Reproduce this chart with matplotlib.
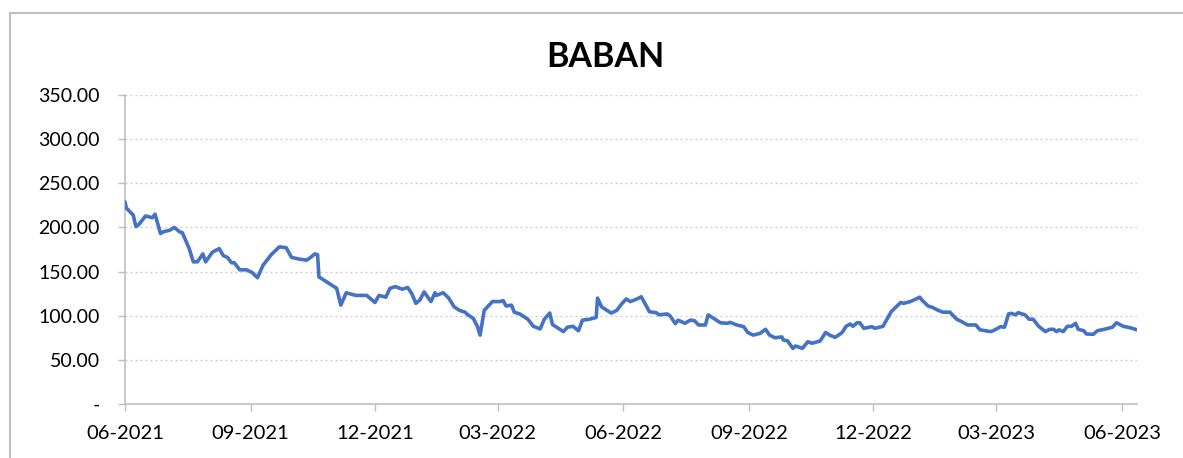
import matplotlib
matplotlib.use("Agg")
import matplotlib.pyplot as plt
import matplotlib.dates as mdates
from matplotlib.lines import Line2D
import pandas as pd

# ============== Daten ==============
TITLE = "BABAN"

dates = [
    "2021-06-01", "2021-06-02", "2021-06-07", "2021-06-09", "2021-06-11", "2021-06-16",
    "2021-06-21", "2021-06-23", "2021-06-27", "2021-06-29", "2021-07-04", "2021-07-07",
    "2021-07-11", "2021-07-13", "2021-07-18", "2021-07-21", "2021-07-24", "2021-07-28",
    "2021-07-30", "2021-08-04", "2021-08-09", "2021-08-12", "2021-08-15", "2021-08-18",
    "2021-08-20", "2021-08-24", "2021-08-29", "2021-09-02", "2021-09-06", "2021-09-10",
    "2021-09-16", "2021-09-22", "2021-09-27", "2021-10-01", "2021-10-07", "2021-10-12",
    "2021-10-14", "2021-10-18", "2021-10-20", "2021-10-21", "2021-10-28", "2021-11-03",
    "2021-11-06", "2021-11-10", "2021-11-17", "2021-11-20", "2021-11-25", "2021-11-28",
    "2021-12-01", "2021-12-04", "2021-12-09", "2021-12-12", "2021-12-16", "2021-12-21",
    "2021-12-25", "2021-12-28", "2021-12-31", "2022-01-03", "2022-01-06", "2022-01-11",
    "2022-01-14", "2022-01-15", "2022-01-20", "2022-01-24", "2022-01-28", "2022-02-01",
    "2022-02-05", "2022-02-07", "2022-02-11", "2022-02-14", "2022-02-16", "2022-02-19",
    "2022-02-22", "2022-02-25", "2022-03-02", "2022-03-05", "2022-03-07", "2022-03-11",
    "2022-03-13", "2022-03-17", "2022-03-23", "2022-03-27", "2022-04-01", "2022-04-04",
    "2022-04-08", "2022-04-10", "2022-04-14", "2022-04-18", "2022-04-21", "2022-04-25",
    "2022-04-29", "2022-05-02", "2022-05-07", "2022-05-12", "2022-05-13", "2022-05-16",
    "2022-05-20", "2022-05-23", "2022-05-27", "2022-05-31", "2022-06-03", "2022-06-06",
    "2022-06-11", "2022-06-14", "2022-06-20", "2022-06-25", "2022-06-27", "2022-07-03",
    "2022-07-05", "2022-07-09", "2022-07-11", "2022-07-16", "2022-07-20", "2022-07-23",
    "2022-07-26", "2022-07-31", "2022-08-02", "2022-08-07", "2022-08-11", "2022-08-16",
    "2022-08-18", "2022-08-23", "2022-08-28", "2022-08-31", "2022-09-04", "2022-09-09",
    "2022-09-13", "2022-09-16", "2022-09-20", "2022-09-25", "2022-09-26", "2022-09-29",
    "2022-10-03", "2022-10-05", "2022-10-10", "2022-10-14", "2022-10-17", "2022-10-21",
    "2022-10-23", "2022-10-27", "2022-10-30", "2022-11-03", "2022-11-08", "2022-11-11",
    "2022-11-14", "2022-11-16", "2022-11-19", "2022-11-21", "2022-11-24", "2022-11-30",
    "2022-12-02", "2022-12-08", "2022-12-14", "2022-12-21", "2022-12-23", "2022-12-28",
    "2023-01-04", "2023-01-05", "2023-01-10", "2023-01-13", "2023-01-18", "2023-01-21",
    "2023-01-26", "2023-01-31", "2023-02-04", "2023-02-08", "2023-02-14", "2023-02-17",
    "2023-02-21", "2023-02-25", "2023-02-28", "2023-03-04", "2023-03-07", "2023-03-10",
    "2023-03-12", "2023-03-15", "2023-03-17", "2023-03-22", "2023-03-25", "2023-03-28",
    "2023-04-01", "2023-04-06", "2023-04-09", "2023-04-12", "2023-04-14", "2023-04-16",
    "2023-04-19", "2023-04-22", "2023-04-25", "2023-04-28", "2023-04-30", "2023-05-04",
    "2023-05-06", "2023-05-11", "2023-05-14", "2023-05-19", "2023-05-25", "2023-05-28",
    "2023-06-02", "2023-06-07", "2023-06-12",
]

values = [
    229, 222, 214, 201, 203, 213,
    211, 215, 193, 195, 197, 200,
    195, 194, 176, 161, 161, 170,
    161, 172, 176, 168, 166, 160,
    160, 152, 152, 149, 143, 157,
    169, 178, 177, 166, 164, 163,
    165, 170, 169, 144, 137, 131,
    112, 126, 123, 123, 123, 119,
    115, 123, 121, 131, 133, 130,
    132, 125, 114, 118, 127, 116,
    126, 123, 126, 120, 110, 106,
    104, 101, 97, 88, 78, 106,
    111, 116, 116, 117, 111, 112,
    104, 102, 96, 88, 85, 96,
    103, 90, 86, 82, 87, 88,
    83, 95, 96, 98, 120, 110,
    106, 103, 106, 114, 119, 116,
    119, 121.5, 104.5, 103.4, 101, 102,
    100, 91, 95, 91.4, 95, 94.4,
    89.5, 89.5, 101, 96, 92, 91.4,
    92.5, 89.5, 87.6, 81, 78, 80,
    84.6, 78, 75, 76, 72.5, 71.7,
    63, 65.7, 63, 70.6, 68.8, 70.6,
    71.4, 81, 78, 75.5, 80.8, 88,
    90.6, 88, 92, 92, 85.7, 87.6,
    85.7, 88, 104.5, 115, 114, 116,
    121, 118.6, 111, 109.5, 105.7, 104,
    104, 96, 93, 89.5, 89.5, 84,
    83, 82, 84, 87.6, 87, 102,
    102.7, 101, 103.4, 101, 96, 96,
    88, 82, 84.6, 84.6, 82, 84,
    82, 88, 88, 91.4, 84.6, 83,
    79.3, 79, 83, 84.6, 87, 92,
    88, 86.4, 84,
]

y_ticks = [0, 50, 100, 150, 200, 250, 300, 350]
x_ticks = ["2021-06-01", "2021-09-01", "2021-12-01", "2022-03-01", "2022-06-01",
           "2022-09-01", "2022-12-01", "2023-03-01", "2023-06-01"]

# ============== Stil ==============
LINE_COLOR = "#4472C4"
AXIS_COLOR = "#BFBFBF"
GRID_COLOR = "#C8C8C8"
TEXT_COLOR = "#000000"
FONT = ["Lato", "DejaVu Sans"]

plt.rcParams["font.family"] = FONT

W, H = 1183, 458
fig = plt.figure(figsize=(W / 100, H / 100), dpi=100)
ax = fig.add_axes([125 / W, 1 - 404 / H, (1137 - 125) / W, (404 - 95) / H])

x = pd.to_datetime(dates)
ax.plot(x, values, color=LINE_COLOR, linewidth=2.6, solid_joinstyle="round",
        solid_capstyle="round", zorder=3)

ax.set_xlim(pd.Timestamp("2021-06-01"), pd.Timestamp("2023-06-12"))
ax.set_ylim(0, 350)

ax.set_yticks(y_ticks)
ax.set_yticklabels(["-" if v == 0 else f"{v:.2f}" for v in y_ticks])
ax.set_xticks(pd.to_datetime(x_ticks))
ax.xaxis.set_major_formatter(mdates.DateFormatter("%m-%Y"))

ax.grid(axis="y", linestyle=(0, (1.5, 2.5)), color=GRID_COLOR, linewidth=0.9)
ax.set_axisbelow(True)

for side in ("top", "right"):
    ax.spines[side].set_visible(False)
for side in ("left", "bottom"):
    ax.spines[side].set_color(AXIS_COLOR)
    ax.spines[side].set_linewidth(1.2)

ax.tick_params(axis="y", length=5, width=1, color=AXIS_COLOR, pad=13,
               labelsize=14, labelcolor=TEXT_COLOR)
ax.tick_params(axis="x", length=5, width=1, color=AXIS_COLOR, pad=10,
               labelsize=14.5, labelcolor=TEXT_COLOR)

fig.text(605 / W, 1 - 57 / H, TITLE, ha="center", va="center",
         fontsize=24.5, fontweight="bold", color=TEXT_COLOR)

# Rahmen des Diagrammbereichs (oben und links sichtbar)
fig.add_artist(Line2D([10 / W, 1.0], [1 - 13 / H, 1 - 13 / H],
                      color=AXIS_COLOR, linewidth=1.5, transform=fig.transFigure))
fig.add_artist(Line2D([10 / W, 10 / W], [0.0, 1 - 13 / H],
                      color=AXIS_COLOR, linewidth=1.5, transform=fig.transFigure))

fig.savefig("out.png", dpi=100, facecolor="white")
